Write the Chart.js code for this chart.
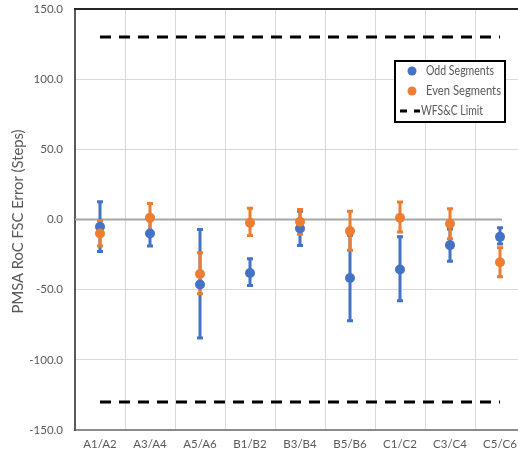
<!DOCTYPE html>
<html>
<head>
<meta charset="utf-8">
<script src="https://cdn.jsdelivr.net/npm/chart.js@4/dist/chart.umd.min.js"></script>
<style>
html,body{margin:0;padding:0;overflow:hidden;background:#fff;}
#wrap{width:530px;height:452px;position:relative;}
</style>
</head>
<body>
<div id="wrap"><canvas id="c"></canvas></div>
<script>
const categories = ["A1/A2","A3/A4","A5/A6","B1/B2","B3/B4","B5/B6","C1/C2","C3/C4","C5/C6"];
const oddValues  = [-5.2, -10.0, -46.4, -38.1, -6.4, -41.7, -35.7, -18.3, -12.4];
const oddLow     = [-22.9, -19.0, -84.5, -47.1, -18.6, -72.1, -57.9, -29.8, -17.5];
const oddHigh    = [12.6, -1.0, -7.1, -28.0, 5.8, -11.3, -12.4, -6.8, -5.9];
const evenValues = [-10.0, 1.2, -38.8, -2.4, -1.7, -8.3, 1.2, -3.1, -30.5];
const evenLow    = [-19.0, -9.0, -53.0, -11.4, -10.5, -21.9, -9.0, -13.8, -40.9];
const evenHigh   = [-1.0, 11.4, -23.8, 7.9, 7.1, 5.9, 12.4, 7.6, -20.2];
const upperLimit = [130, 130, 130, 130, 130, 130, 130, 130, 130];
const lowerLimit = [-130, -130, -130, -130, -130, -130, -130, -130, -130];
const yTicks = [-150, -100, -50, 0, 50, 100, 150];
const yTitle = 'PMSA RoC FSC Error (Steps)';

const BLUE = '#4472C4', ORANGE = '#ED7D31';
const FONT = 'Lato, "Open Sans", sans-serif';

const errorBars = {
  id: 'errorBars',
  beforeDatasetsDraw(chart) {
    const ctx = chart.ctx, y = chart.scales.y, x = chart.scales.x, a = chart.chartArea;
    ctx.save();
    const zy = y.getPixelForValue(0);
    ctx.strokeStyle = '#a6a6a6'; ctx.lineWidth = 2;
    ctx.beginPath(); ctx.moveTo(a.left, zy); ctx.lineTo(x.getPixelForValue(categories.length - 1) + 2, zy); ctx.stroke();
    const sets = [[oddLow, oddHigh, BLUE], [evenLow, evenHigh, ORANGE]];
    sets.forEach(([lo, hi, col]) => {
      ctx.strokeStyle = col; ctx.lineWidth = 3;
      lo.forEach((l, i) => {
        const px = x.getPixelForValue(i);
        const p1 = y.getPixelForValue(l), p2 = y.getPixelForValue(hi[i]);
        ctx.beginPath();
        ctx.moveTo(px, p1); ctx.lineTo(px, p2);
        ctx.moveTo(px - 3, p1); ctx.lineTo(px + 3, p1);
        ctx.moveTo(px - 3, p2); ctx.lineTo(px + 3, p2);
        ctx.stroke();
      });
    });
    ctx.restore();
  }
};

const frame = {
  id: 'frame',
  afterDraw(chart) {
    const ctx = chart.ctx, a = chart.chartArea;
    ctx.save();
    ctx.strokeStyle = '#262626'; ctx.lineWidth = 2;
    ctx.beginPath(); ctx.moveTo(a.left - 1, a.top); ctx.lineTo(a.right, a.top); ctx.stroke();
    // y title
    ctx.save();
    ctx.translate(18, (a.top + a.bottom) / 2 + 2);
    ctx.rotate(-Math.PI / 2);
    ctx.font = '15px ' + FONT;
    ctx.fillStyle = '#595959';
    ctx.textAlign = 'center'; ctx.textBaseline = 'middle';
    ctx.fillText(yTitle, 0, 0, 184);
    ctx.restore();
    // legend box
    const bx = 395, by = 61, bw = 110, bh = 61;
    ctx.fillStyle = '#fff';
    ctx.fillRect(bx, by, bw, bh);
    ctx.strokeStyle = '#000'; ctx.lineWidth = 2;
    ctx.strokeRect(bx, by, bw, bh);
    ctx.font = '12.5px ' + FONT;
    ctx.textBaseline = 'middle';
    const ds = chart.data.datasets;
    const items = [ds[0], ds[1], ds[2]];
    items.forEach((d, i) => {
      const yy = by + 10 + i * 20;
      if (i < 2) {
        ctx.beginPath(); ctx.fillStyle = d.backgroundColor;
        ctx.arc(412, yy, 4.5, 0, Math.PI * 2); ctx.fill();
        ctx.fillStyle = '#595959';
        ctx.fillText(d.label, 426, yy, i === 0 ? 68 : 75);
      } else {
        ctx.strokeStyle = '#000'; ctx.lineWidth = 3;
        ctx.beginPath(); ctx.moveTo(400, yy); ctx.lineTo(407, yy);
        ctx.moveTo(414, yy); ctx.lineTo(420, yy); ctx.stroke();
        ctx.fillStyle = '#595959';
        ctx.fillText(d.label, 421, yy, 62);
      }
    });
    ctx.restore();
  }
};

new Chart(document.getElementById('c'), {
  type: 'line',
  data: {
    labels: categories,
    datasets: [
      { label: 'Odd Segments', data: oddValues, showLine: false, backgroundColor: BLUE, borderColor: BLUE,
        pointRadius: 5, pointBorderWidth: 0, order: 2 },
      { label: 'Even Segments', data: evenValues, showLine: false, backgroundColor: ORANGE, borderColor: ORANGE,
        pointRadius: 5, pointBorderWidth: 0, order: 1 },
      { label: 'WFS&C Limit', data: upperLimit, borderColor: '#000', backgroundColor: '#000', borderWidth: 3,
        borderDash: [11, 8], pointRadius: 0, fill: false, order: 3 },
      { label: 'WFS&C Limit (lower)', data: lowerLimit, borderColor: '#000', backgroundColor: '#000', borderWidth: 3,
        borderDash: [11, 8], pointRadius: 0, fill: false, order: 3 }
    ]
  },
  options: {
    responsive: true, maintainAspectRatio: false, animation: false,
    layout: { padding: { top: 0, right: 5, left: 0, bottom: 0 } },
    plugins: { legend: { display: false }, tooltip: { enabled: false } },
    scales: {
      x: {
        offset: true,
        grid: { color: '#d9d9d9', lineWidth: 1, drawTicks: false, offset: true },
        border: { color: '#8c8c8c', width: 2 },
        ticks: { color: '#595959', font: { family: FONT, size: 11.5 }, padding: 7, maxRotation: 0, autoSkip: false },
        afterFit(s) { s.height = 22; }
      },
      y: {
        min: -150, max: 150,
        afterBuildTicks(s) { s.ticks = yTicks.map(v => ({ value: v })); },
        grid: {
          drawTicks: true, tickLength: 10, tickColor: 'rgba(0,0,0,0)',
          color: c => (c.tick.value === 150 || c.tick.value === 0) ? 'rgba(0,0,0,0)' : '#d9d9d9',
          lineWidth: 1
        },
        border: { color: '#595959', width: 2 },
        ticks: { color: '#595959', font: { family: FONT, size: 11.5 }, padding: 2,
          callback: v => Number(v).toFixed(1) },
        title: { display: false },
        afterFit(s) { s.width = 75; }
      }
    }
  },
  plugins: [errorBars, frame]
});
</script>
</body>
</html>
